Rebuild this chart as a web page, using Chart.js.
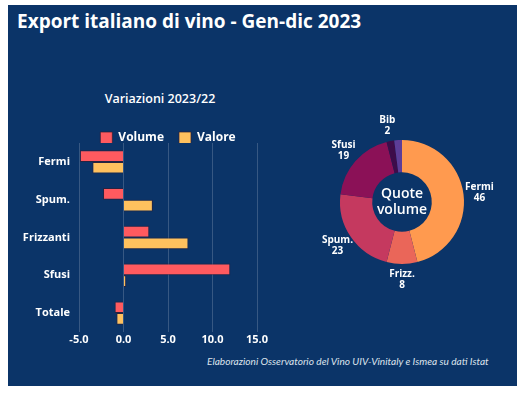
<!DOCTYPE html>
<html>
<head>
<meta charset="utf-8">
<script src="https://cdn.jsdelivr.net/npm/chart.js@4"></script>
<style>
  body { margin: 0; background: #fff; width: 527px; height: 394px; overflow: hidden; font-family: "Open Sans", sans-serif; }
  #panel { position: absolute; left: 8px; top: 5px; width: 509px; height: 381px; background: #0b3468; }
  #title { position: absolute; left: 17px; top: 8px; color: #fff; font-weight: 700; font-size: 19px; white-space: nowrap; }
  #subtitle { position: absolute; left: 60px; width: 200px; top: 90px; text-align: center; color: #fff; font-weight: 600; font-size: 12.5px; }
  #note { position: absolute; left: 207px; top: 355px; color: #dde3ec; font-family: Lato, sans-serif; font-style: italic; font-size: 10.1px; white-space: nowrap; }
  #barBox { position: absolute; left: 8px; top: 117px; width: 269px; height: 231px; }
  #pieBox { position: absolute; left: 302px; top: 107px; width: 200px; height: 190px; }
</style>
</head>
<body>
<div id="panel"></div>
<div id="title">Export italiano di vino - Gen-dic 2023</div>
<div id="subtitle">Variazioni 2023/22</div>
<div id="barBox"><canvas id="barChart"></canvas></div>
<div id="pieBox"><canvas id="pieChart"></canvas></div>
<div id="note">Elaborazioni Osservatorio del Vino UIV-Vinitaly e Ismea su dati Istat</div>

<script>
var categories = ['Fermi', 'Spum.', 'Frizzanti', 'Sfusi', 'Totale'];
var volumeData = [-4.9, -2.3, 2.9, 12.0, -1.0];
var valoreData = [-3.5, 3.3, 7.3, 0.3, -0.8];
var xTicks = [-5, 0, 5, 10, 15];

var quoteLabels = ['Fermi', 'Frizz.', 'Spum.', 'Sfusi', 'Bib', ''];
var quoteData = [46, 8, 23, 19, 2, 2];
var quoteColors = ['#ff9a4f', '#ea6659', '#c5395f', '#8b1157', '#3d0c4a', '#5d3d98'];

Chart.defaults.font.family = '"Open Sans", sans-serif';
Chart.defaults.color = '#ffffff';

// legend a bit tighter than chart.js default
var legendFit = {
    id: 'legendFit',
    beforeInit: function(chart) {
        var fit = chart.legend.fit;
        chart.legend.fit = function() {
            fit.call(this);
            this.height -= 11;
        };
    }
};

new Chart(document.getElementById('barChart'), {
    type: 'bar',
    data: {
        labels: categories,
        datasets: [{
            label: 'Volume',
            data: volumeData,
            backgroundColor: '#ff5a5f',
            borderColor: 'rgba(50,30,50,0.7)',
            borderWidth: 1
        }, {
            label: 'Valore',
            data: valoreData,
            backgroundColor: '#ffc15e',
            borderColor: 'rgba(50,30,50,0.7)',
            borderWidth: 1
        }]
    },
    options: {
        indexAxis: 'y',
        responsive: true,
        maintainAspectRatio: false,
        animation: false,
        categoryPercentage: 0.62,
        barPercentage: 1.0,
        layout: { padding: { left: 0, right: 20, top: 0, bottom: 0 } },
        plugins: {
            legend: {
                fullSize: false,
                labels: {
                    boxWidth: 12,
                    boxHeight: 12,
                    padding: 15,
                    color: '#fff',
                    font: { size: 12, weight: 'bold' }
                }
            },
            tooltip: { enabled: false }
        },
        scales: {
            x: {
                min: -5,
                max: 15,
                afterBuildTicks: function(scale) {
                    scale.ticks = xTicks.map(function(v) { return { value: v }; });
                },
                afterFit: function(scale) { scale.height = 16; },
                grid: { color: 'rgba(255,255,255,0.18)', drawTicks: false },
                border: { display: false },
                ticks: {
                    padding: 1,
                    color: '#fff',
                    font: { size: 11, weight: 'bold' },
                    callback: function(v) { return v.toFixed(1); }
                }
            },
            y: {
                afterFit: function(scale) { scale.width = 71; },
                grid: { display: false, drawTicks: false },
                border: { display: false },
                ticks: {
                    padding: 9,
                    color: '#fff',
                    font: { size: 11, weight: 'bold' }
                }
            }
        }
    },
    plugins: [legendFit]
});

var sliceLabels = {
    id: 'sliceLabels',
    afterDatasetsDraw: function(chart) {
        var ctx = chart.ctx;
        var meta = chart.getDatasetMeta(0);
        ctx.save();
        ctx.fillStyle = '#fff';
        ctx.textAlign = 'center';
        ctx.textBaseline = 'middle';
        ctx.font = 'bold 10px "Open Sans", sans-serif';
        meta.data.forEach(function(arc, i) {
            if (!quoteLabels[i]) return;
            var p = arc.getProps(['x', 'y', 'startAngle', 'endAngle', 'outerRadius'], true);
            var mid = (p.startAngle + p.endAngle) / 2;
            var r = p.outerRadius + 16;
            var x = p.x + Math.cos(mid) * r;
            var y = p.y + Math.sin(mid) * r;
            ctx.fillText(quoteLabels[i], x, y - 5.5);
            ctx.fillText(String(quoteData[i]), x, y + 5.5);
        });
        // center text
        var c = meta.data[0];
        ctx.font = '600 14px "Open Sans", sans-serif';
        ctx.fillText('Quote', c.x, c.y - 8);
        ctx.fillText('volume', c.x, c.y + 8.5);
        ctx.restore();
    }
};

new Chart(document.getElementById('pieChart'), {
    type: 'doughnut',
    data: {
        labels: quoteLabels,
        datasets: [{
            data: quoteData,
            backgroundColor: quoteColors,
            borderWidth: 0
        }]
    },
    options: {
        responsive: true,
        maintainAspectRatio: false,
        animation: false,
        cutout: '48%',
        layout: { padding: { left: 38, right: 38, top: 23, bottom: 23 } },
        plugins: {
            legend: { display: false },
            tooltip: { enabled: false }
        }
    },
    plugins: [sliceLabels]
});
</script>
</body>
</html>
